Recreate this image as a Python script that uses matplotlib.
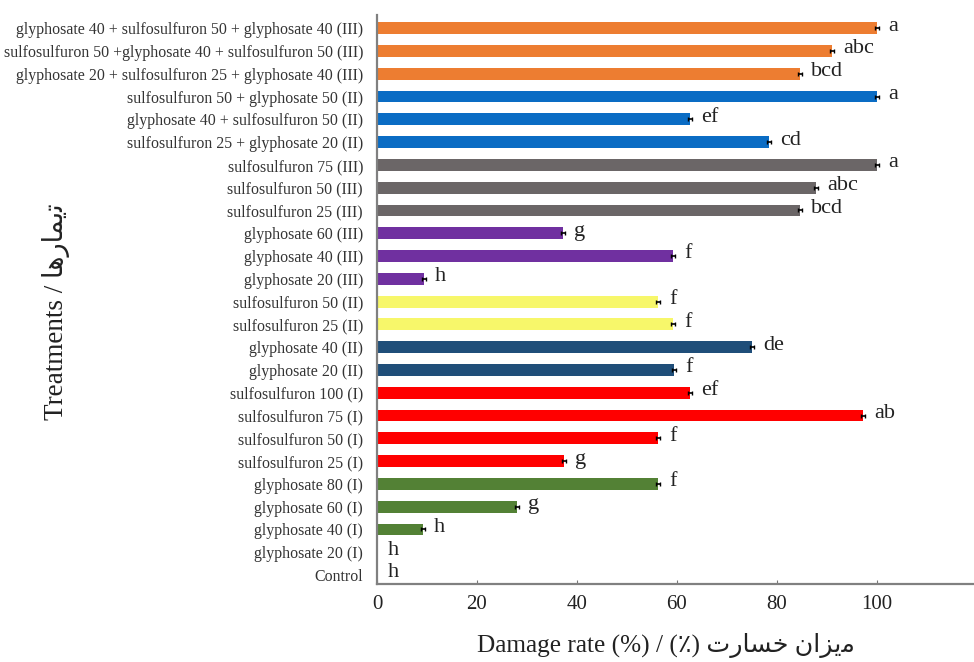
import matplotlib.pyplot as plt

# Treatments listed top to bottom as in the figure
treatments = [
    "glyphosate 40 + sulfosulfuron 50 + glyphosate 40 (III)",
    "sulfosulfuron 50 +glyphosate 40 + sulfosulfuron 50 (III)",
    "glyphosate 20 + sulfosulfuron 25 + glyphosate 40 (III)",
    "sulfosulfuron 50 + glyphosate 50 (II)",
    "glyphosate 40 + sulfosulfuron 50 (II)",
    "sulfosulfuron 25 + glyphosate 20 (II)",
    "sulfosulfuron 75 (III)",
    "sulfosulfuron 50 (III)",
    "sulfosulfuron 25 (III)",
    "glyphosate 60 (III)",
    "glyphosate 40 (III)",
    "glyphosate 20 (III)",
    "sulfosulfuron 50 (II)",
    "sulfosulfuron 25 (II)",
    "glyphosate 40 (II)",
    "glyphosate 20 (II)",
    "sulfosulfuron 100 (I)",
    "sulfosulfuron 75 (I)",
    "sulfosulfuron 50 (I)",
    "sulfosulfuron 25 (I)",
    "glyphosate 80 (I)",
    "glyphosate 60 (I)",
    "glyphosate 40 (I)",
    "glyphosate 20 (I)",
    "Control",
]
damage = [100, 91, 84.6, 100, 62.6, 78.4, 100, 87.8, 84.6, 37.2, 59.2, 9.4,
          56.2, 59.2, 75, 59.4, 62.6, 97.2, 56.2, 37.4, 56.2, 28, 9.2, 0, 0]
letters = ["a", "abc", "bcd", "a", "ef", "cd", "a", "abc", "bcd", "g", "f", "h",
           "f", "f", "de", "f", "ef", "ab", "f", "g", "f", "g", "h", "h", "h"]
groups = ["combo3"] * 3 + ["combo2"] * 3 + ["sulfo3"] * 3 + ["glyph3"] * 3 + \
         ["sulfo2"] * 2 + ["glyph2"] * 2 + ["sulfo1"] * 4 + ["glyph1"] * 4 + ["control"]

group_colors = {
    "combo3": "#ED7D31",
    "combo2": "#0A6CC4",
    "sulfo3": "#6B6667",
    "glyph3": "#7030A0",
    "sulfo2": "#F7F76A",
    "glyph2": "#1F4E79",
    "sulfo1": "#FF0000",
    "glyph1": "#538135",
    "control": "#538135",
}

# Persian text in presentation forms, visual order
fa_treat = "\uFE8E\uFEEB\uFEAD\uFE8E\uFEE4\uFBFE\uFE97"          # تیمارها
fa_damage = "\uFE95\uFEAD\uFE8E\uFEB4\uFEA7 \uFEE5\uFE8D\uFEB0\uFBFE\uFEE3"  # میزان خسارت

serif = ["Liberation Serif", "DejaVu Sans"]
plt.rcParams['font.family'] = serif

n = len(treatments)
ypos = list(range(n - 1, -1, -1))
colors = [group_colors[g] for g in groups]

fig = plt.figure(figsize=(9.74, 6.62), dpi=100)
ax = fig.add_axes([0.387, 0.118, 0.613, 0.859])

ax.barh(ypos, damage, height=0.52, color=colors, zorder=2)

# small error tips only where there is a bar
ex = [d for d in damage if d > 0]
ey = [y for y, d in zip(ypos, damage) if d > 0]
ax.errorbar(ex, ey, xerr=0.4, fmt="none", ecolor="black",
            elinewidth=1.2, capsize=1.2, zorder=3)

for y, d, lab in zip(ypos, damage, letters):
    ax.annotate(lab, (d, y), xytext=(8, 1.5), textcoords="offset points",
                ha="left", va="center", fontsize=16, color="#222222")

ax.set_xlim(0, 119.4)
ax.set_ylim(-0.39, 24.57)
ax.set_xticks([0, 20, 40, 60, 80, 100])
ax.set_yticks(ypos)
ax.set_yticklabels(treatments, fontsize=11.4, color="#333333")
ax.tick_params(axis="y", length=0, pad=10)
ax.tick_params(axis="x", direction="in", length=3, color="#777777",
               labelsize=15, pad=8, labelcolor="#222222")

for s in ["top", "right"]:
    ax.spines[s].set_visible(False)
for s in ["left", "bottom"]:
    ax.spines[s].set_color("#808080")
    ax.spines[s].set_linewidth(1.6)

fig.text(666 / 974, 1 - 645 / 662, "Damage rate (%) / (\u066A) " + fa_damage,
         ha="center", va="center", fontsize=18.2, color="#222222", family=serif)
fig.text(56 / 974, 1 - 312 / 662, "Treatments / " + fa_treat, rotation=90,
         ha="center", va="center", fontsize=19.5, color="#222222", family=serif)

plt.savefig("out.png", dpi=100)
